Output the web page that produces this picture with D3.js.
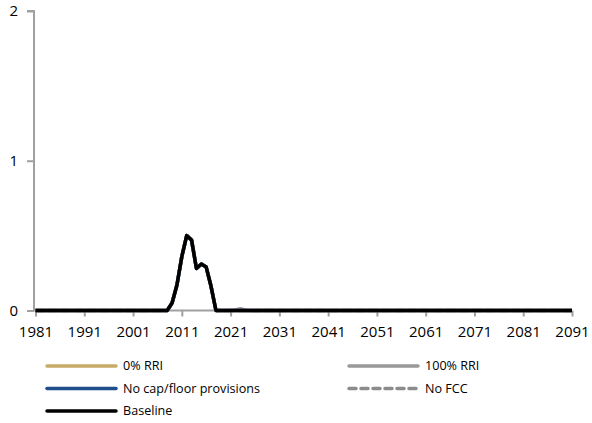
<!DOCTYPE html>
<html><head><meta charset="utf-8">
<script src="https://cdn.jsdelivr.net/npm/d3@7/dist/d3.min.js"></script>
<style>body{margin:0;background:#fff}svg{display:block}text{font-family:"Open Sans",sans-serif;fill:#000}</style>
</head><body><svg id="c" width="592" height="423"></svg>
<script>
const startYear = 1981, endYear = 2091;
const years = d3.range(startYear, endYear + 1);
const xTickLabels = ["1981","1991","2001","2011","2021","2031","2041","2051","2061","2071","2081","2091"];
const yTickLabels = [0, 1, 2];
// non-zero values by year; all other years are 0
const baselinePeak = {2009:0.05, 2010:0.17, 2011:0.36, 2012:0.50, 2013:0.47, 2014:0.28, 2015:0.31, 2016:0.29, 2017:0.16};
const rri100Extra = {2022:0.004, 2023:0.012, 2024:0.004};
const seriesNames = ["0% RRI", "100% RRI", "No cap/floor provisions", "No FCC", "Baseline"];
const seriesColors = ["#C9AB68", "#999999", "#1F4E8C", "#8C8C8C", "#000000"];
const seriesDash = [null, null, null, "8,5", null];

const val = (obj, y) => obj[y] || 0;
const rri0 = years.map(y => val(baselinePeak, y));
const rri100 = years.map(y => val(baselinePeak, y) + val(rri100Extra, y));
const noCap = years.map(y => val(baselinePeak, y));
const noFCC = years.map(y => val(baselinePeak, y));
const baseline = years.map(y => val(baselinePeak, y));
const seriesValues = [rri0, rri100, noCap, noFCC, baseline];

const svg = d3.select("#c");
const x = d3.scaleLinear().domain([startYear, endYear]).range([35.5, 572]);
const y = d3.scaleLinear().domain([0, 2]).range([310.5, 11]);

// y axis
const yAxis = svg.append("g").attr("transform", "translate(34,0)")
  .call(d3.axisLeft(y).tickValues(yTickLabels).tickSize(7).tickPadding(9).tickFormat(d3.format("d")));
yAxis.select(".domain").attr("stroke", "#a0a0a0").attr("stroke-width", 2).attr("d", `M-7,${y(2)}H0V${y(0)}`);
yAxis.selectAll(".tick line").attr("stroke", "#a0a0a0").attr("stroke-width", 2);
yAxis.selectAll("text").style("font-size", "15px");

// x axis
const xAxis = svg.append("g").attr("transform", `translate(0,${y(0)})`)
  .call(d3.axisBottom(x).tickValues(xTickLabels.map(Number)).tickSize(6).tickPadding(10).tickFormat(d => String(d)));
xAxis.select(".domain").attr("stroke", "#a0a0a0").attr("stroke-width", 2).attr("d", `M34,0H${x(endYear)}`);
xAxis.selectAll(".tick line").attr("stroke", "#a0a0a0").attr("stroke-width", 2);
xAxis.selectAll("text").style("font-size", "15px");

const line = d3.line().x((d, i) => x(years[i])).y(d => y(d));
seriesValues.forEach((vals, i) => {
  svg.append("path").datum(vals).attr("d", line)
    .attr("fill", "none").attr("stroke", seriesColors[i])
    .attr("stroke-width", 3.5).attr("stroke-linejoin", "round")
    .attr("stroke-dasharray", seriesDash[i]);
});

// legend
const legendPos = [[47,366],[349,366],[47,388.5],[349,388.5],[47,411]];
seriesNames.forEach((n, i) => {
  const [lx, ly] = legendPos[i];
  svg.append("line").attr("x1", lx).attr("x2", lx + 69).attr("y1", ly).attr("y2", ly)
    .attr("stroke", seriesColors[i]).attr("stroke-width", 3.5).attr("stroke-linecap", "round")
    .attr("stroke-dasharray", seriesDash[i] ? "7,5" : null);
  svg.append("text").attr("x", lx + 76).attr("y", ly).attr("dy", "0.35em")
    .style("font-size", "12.6px").text(n);
});
</script></body></html>
